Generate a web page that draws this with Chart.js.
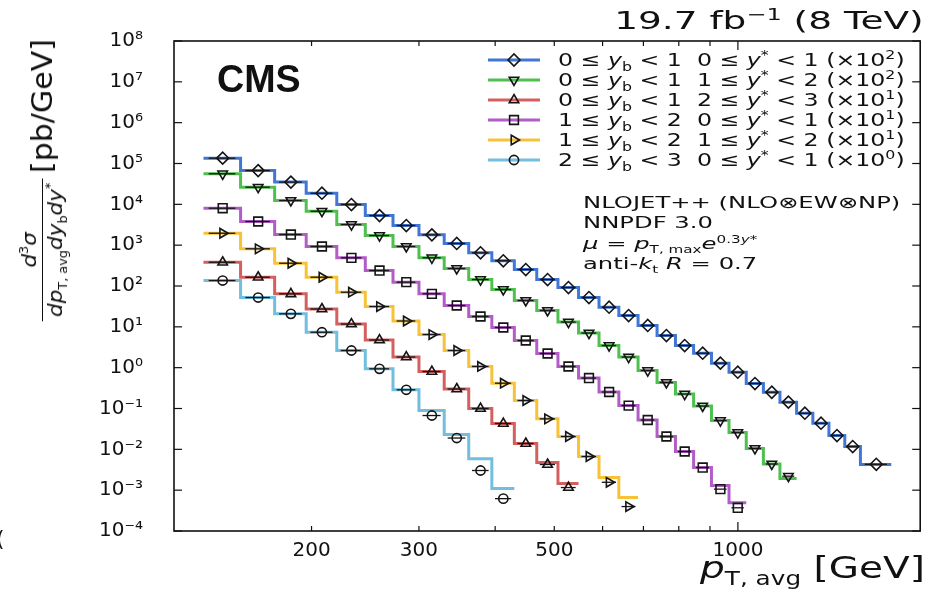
<!DOCTYPE html>
<html>
<head>
    <meta charset="utf-8">
    <title>Dijet cross section 8 TeV</title>
    <style>
        body {
            margin: 0;
            background: #fff;
            font-family: "DejaVu Sans", sans-serif;
            color: #111;
        }

        #wrap {
            position: relative;
            width: 928px;
            height: 592px;
            overflow: hidden;
        }

        #chart {
            position: absolute;
            left: 0;
            top: 0;
        }

        .txt {
            position: absolute;
            white-space: nowrap;
            color: #111;
        }

        #lumi {
            right: 4px;
            top: 5px;
            font-size: 25px;
        }

        #lumi sup { font-size: 16px; }

        #cms {
            left: 217px;
            top: 57px;
            font-family: "Liberation Sans", Arial, sans-serif;
            font-weight: bold;
            font-size: 39px;
        }

        .leg-sample {
            position: absolute;
            left: 486px;
        }

        .leg-text {
            position: absolute;
            left: 558px;
            font-size: 18px;
            line-height: 22px;
            white-space: nowrap;
        }

        .leg-text sub, .leg-text sup { font-size: 12px; line-height: 0; }

        #theory {
            left: 583px;
            top: 193px;
            font-size: 16px;
        }

        #theory > div { height: 20.3px; line-height: 20px; }

        #theory sub, #theory sup { font-size: 10px; line-height: 0; }

        #xtitle {
            right: 3px;
            top: 550px;
            font-size: 30px;
        }

        #xtitle sub { font-size: 19px; line-height: 0; }

        #ytitle {
            left: 42px;
            top: 178px;
            font-size: 28px;
            display: flex;
            align-items: center;
        }

        .frac {
            display: inline-flex;
            flex-direction: column;
            align-items: center;
            font-size: 20px;
            margin-right: 9px;
        }

        .frac .num {
            border-bottom: 1.5px solid #111;
            padding: 0 4px 1px 4px;
            width: 100%;
            text-align: center;
        }

        .frac sub, .frac sup { font-size: 12px; line-height: 0; }

        #stray {
            left: -4px;
            top: 526px;
            font-size: 22px;
        }
    </style>
</head>
<body>
<div id="wrap">
    <canvas id="chart" width="928" height="592"></canvas>
    <div class="txt" id="lumi">19.7 fb<sup>−1</sup> (8 TeV)</div>
    <div class="txt" id="cms">CMS</div>
    <div id="legend"></div>
    <div class="txt" id="theory">
        <div id="th1">NLOJET++ (NLO⊗EW⊗NP)</div>
        <div>NNPDF 3.0</div>
        <div><i>μ</i> = <i>p</i><sub>T, max</sub><i>e</i><sup>0.3<i>y</i>*</sup></div>
        <div>anti-<i>k</i><sub>t</sub> <i>R</i> = 0.7</div>
    </div>
    <div class="txt" id="xtitle"><i>p</i><sub>T, avg</sub> [GeV]</div>
    <div class="txt" id="ytitle">
        <span class="frac">
            <span class="num"><i>d</i><sup>3</sup><i>σ</i></span>
            <span class="den"><i>dp</i><sub>T, avg</sub><i>dy</i><sub>b</sub><i>dy</i><sup>*</sup></span>
        </span>
        <span>[pb/GeV]</span>
    </div>
    <div class="txt" id="stray">(</div>
</div>

<script src="https://cdn.jsdelivr.net/npm/chart.js@4.4.1/dist/chart.umd.min.js"></script>
<script>
    // pT_avg bin edges (GeV)
    const ptEdges = [133, 153, 174, 196, 220, 245, 272, 300, 330, 362, 395, 430, 468, 507, 548, 592,
        638, 686, 737, 790, 846, 905, 967, 1032, 1101, 1172, 1248, 1327, 1410, 1497, 1588, 1784];

    // NLO prediction per bin (already multiplied by the legend factor)
    const theoryA = [1.35e5, 6.7e4, 3.5e4, 1.87e4, 9.9e3, 5.3e3, 3.03e3, 1.79e3, 1.10e3, 650, 415, 253, 144,
        91.8, 52.2, 30.2, 18.9, 10.8, 6.12, 3.48, 2.26, 1.29, 0.773, 0.409, 0.250, 0.143, 0.0766, 0.0436,
        0.0218, 0.0117, 0.00425];
    const theoryB = [5.6e4, 2.63e4, 1.24e4, 6.78e3, 3.2e3, 1.72e3, 927, 490, 268, 144, 82, 44.1, 25.1, 13.1,
        7.05, 3.48, 1.82, 0.851, 0.433, 0.226, 0.115, 0.0507, 0.0258, 0.0105, 0.00437, 0.00193];
    const theoryC = [382, 164, 64.3, 27.3, 11.7, 4.75, 1.82, 0.804, 0.300, 0.0998, 0.0428, 0.0139, 0.00475,
        0.00145];
    const theoryD = [8.04e3, 3.8e3, 1.82e3, 927, 490, 239, 124, 64.3, 33.3, 17.9, 9.62, 4.62, 2.22, 1.07,
        0.557, 0.253, 0.118, 0.0522, 0.0206, 0.00883, 0.00358, 0.0013, 4.9e-4];
    const theoryE = [1.96e3, 814, 361, 164, 70.4, 31.4, 13.9, 6.48, 2.63, 1.07, 0.416, 0.157, 0.0558, 0.0206,
        0.00667, 0.00204, 6.6e-4];
    const theoryF = [136, 52.2, 20.8, 7.38, 2.63, 0.937, 0.287, 0.0892, 0.0230, 0.00585, 0.00110];

    // measured points
    const dataA = [1.35e5, 6.7e4, 3.5e4, 1.87e4, 9.9e3, 5.3e3, 3.03e3, 1.79e3, 1.10e3, 650, 415, 253, 144,
        91.8, 52.2, 30.2, 18.9, 10.8, 6.12, 3.48, 2.26, 1.29, 0.773, 0.409, 0.250, 0.143, 0.0766, 0.0436,
        0.0218, 0.0117, 0.0043];
    const dataB = [5.6e4, 2.63e4, 1.24e4, 6.78e3, 3.2e3, 1.72e3, 927, 490, 268, 144, 82, 44.1, 25.1, 13.1,
        7.05, 3.48, 1.82, 0.851, 0.433, 0.226, 0.115, 0.0507, 0.0258, 0.0105, 0.00437, 0.0022];
    const dataC = [382, 164, 64.3, 27.3, 11.7, 4.75, 1.82, 0.804, 0.300, 0.0998, 0.0428, 0.0139, 0.00425,
        0.00116];
    const dataD = [8.04e3, 3.8e3, 1.82e3, 927, 490, 239, 124, 64.3, 33.3, 17.9, 9.62, 4.62, 2.22, 1.07,
        0.557, 0.253, 0.118, 0.0522, 0.0206, 0.00883, 0.00358, 0.00106, 3.7e-4];
    const dataE = [1.96e3, 814, 361, 164, 70.4, 31.4, 13.9, 6.48, 2.63, 1.07, 0.416, 0.157, 0.0558, 0.0206,
        0.00667, 0.00156, 3.97e-4];
    const dataF = [136, 52.2, 20.8, 7.38, 2.63, 0.937, 0.287, 0.0673, 0.0189, 0.00303, 6.2e-4];

    // legend bins
    const ybBins = [[0, 1], [0, 1], [0, 1], [1, 2], [1, 2], [2, 3]];
    const ystarBins = [[0, 1], [1, 2], [2, 3], [0, 1], [1, 2], [0, 1]];
    const scaleExps = [2, 2, 1, 1, 1, 0];

    // axis ticks
    const yDecades = [1e-4, 1e-3, 1e-2, 1e-1, 1, 1e1, 1e2, 1e3, 1e4, 1e5, 1e6, 1e7, 1e8];
    const xTickValues = [200, 300, 400, 500, 600, 700, 800, 900, 1000];
    const xTickLabels = [200, 300, 500, 1000];

    const theories = [theoryA, theoryB, theoryC, theoryD, theoryE, theoryF];
    const measured = [dataA, dataB, dataC, dataD, dataE, dataF];
    const colors = ['#4176d4', '#4fbf4f', '#d35f5f', '#b25cc6', '#f7c235', '#72bede'];
    const markers = [
        {pointStyle: 'rectRot', rotation: 0, radius: 6},
        {pointStyle: 'triangle', rotation: 180, radius: 5.5},
        {pointStyle: 'triangle', rotation: 0, radius: 5.5},
        {pointStyle: 'rect', rotation: 0, radius: 6.2},
        {pointStyle: 'triangle', rotation: 90, radius: 5.5},
        {pointStyle: 'circle', rotation: 0, radius: 4.6}
    ];

    const supMap = {'-': '⁻', '0': '⁰', '1': '¹', '2': '²', '3': '³', '4': '⁴', '5': '⁵', '6': '⁶', '7': '⁷', '8': '⁸', '9': '⁹'};
    function toSup(n) {
        return String(n).split('').map(c => supMap[c]).join('');
    }

    const datasets = [];
    theories.forEach((vals, k) => {
        const steps = vals.map((v, i) => ({x: ptEdges[i], y: v}));
        steps.push({x: ptEdges[vals.length], y: vals[vals.length - 1]});
        datasets.push({
            data: steps,
            stepped: 'before',
            borderColor: colors[k],
            borderWidth: 3,
            pointRadius: 0,
            fill: false,
            order: 2
        });
    });
    measured.forEach((vals, k) => {
        datasets.push({
            data: vals.map((v, i) => ({x: (ptEdges[i] + ptEdges[i + 1]) / 2, y: v})),
            xLow: vals.map((v, i) => ptEdges[i]),
            xHigh: vals.map((v, i) => ptEdges[i + 1]),
            showLine: false,
            pointStyle: markers[k].pointStyle,
            rotation: markers[k].rotation,
            pointRadius: markers[k].radius,
            pointBorderColor: '#151515',
            pointBackgroundColor: 'rgba(255,255,255,0)',
            pointBorderWidth: 1.6,
            order: 1
        });
    });

    // short horizontal bars through the measured points
    const pointBars = {
        id: 'pointBars',
        afterDatasetsDraw(chart) {
            const {ctx, scales: {x, y}} = chart;
            ctx.save();
            ctx.strokeStyle = '#151515';
            ctx.lineWidth = 1.3;
            chart.data.datasets.forEach(ds => {
                if (!ds.xLow) return;
                ds.data.forEach((p, i) => {
                    const lo = x.getPixelForValue(ds.xLow[i]);
                    const hi = x.getPixelForValue(ds.xHigh[i]);
                    const c = (lo + hi) / 2, half = (hi - lo) * 0.36;
                    const py = y.getPixelForValue(p.y);
                    ctx.beginPath();
                    ctx.moveTo(c - half, py);
                    ctx.lineTo(c + half, py);
                    ctx.stroke();
                });
            });
            ctx.restore();
        }
    };

    // frame with inward ticks, matplotlib style
    const frameTicks = {
        id: 'frameTicks',
        afterDraw(chart) {
            const {ctx, chartArea: a, scales: {x, y}} = chart;
            ctx.save();
            ctx.strokeStyle = '#111';
            ctx.lineWidth = 1.6;
            ctx.strokeRect(a.left, a.top, a.right - a.left, a.bottom - a.top);
            ctx.lineWidth = 1.2;
            const seg = (x1, y1, x2, y2) => {
                ctx.beginPath();
                ctx.moveTo(x1, y1);
                ctx.lineTo(x2, y2);
                ctx.stroke();
            };
            y.ticks.forEach(t => {
                const py = y.getPixelForValue(t.value);
                seg(a.left, py, a.left + 8, py);
                seg(a.right - 8, py, a.right, py);
            });
            x.ticks.forEach(t => {
                const px = x.getPixelForValue(t.value);
                const len = t.value === 1000 ? 9 : 5;
                seg(px, a.bottom, px, a.bottom - len);
                seg(px, a.top, px, a.top + len);
            });
            ctx.restore();
        }
    };

    const tickFont = {family: 'DejaVu Sans', size: 20};

    new Chart(document.getElementById('chart'), {
        type: 'line',
        data: {datasets: datasets},
        options: {
            responsive: false,
            animation: false,
            layout: {padding: {top: 41, right: 2, left: 0, bottom: 0}},
            plugins: {
                legend: {display: false},
                tooltip: {enabled: false}
            },
            scales: {
                x: {
                    type: 'logarithmic',
                    min: 119,
                    max: 1990,
                    afterFit: s => { s.height = 61; },
                    afterBuildTicks: s => { s.ticks = xTickValues.map(v => ({value: v})); },
                    grid: {display: false},
                    border: {display: false},
                    ticks: {
                        autoSkip: false,
                        maxRotation: 0,
                        minRotation: 0,
                        padding: 0,
                        color: '#111',
                        font: tickFont,
                        callback: v => xTickLabels.includes(v) ? String(v) : ''
                    }
                },
                y: {
                    type: 'logarithmic',
                    min: 1e-4,
                    max: 1e8,
                    afterFit: s => { s.width = 174; },
                    afterBuildTicks: s => { s.ticks = yDecades.map(v => ({value: v})); },
                    grid: {display: false},
                    border: {display: false},
                    ticks: {
                        padding: 23,
                        color: '#111',
                        font: tickFont,
                        callback: v => '10' + toSup(Math.round(Math.log10(v)))
                    }
                }
            }
        },
        plugins: [pointBars, frameTicks]
    });

    // legend
    const legend = document.getElementById('legend');
    const rowY = [60, 80, 100, 120, 140, 160];
    scaleExps.forEach((e, k) => {
        const cv = document.createElement('canvas');
        cv.width = 56;
        cv.height = 20;
        cv.className = 'leg-sample';
        cv.style.top = (rowY[k] - 10) + 'px';
        legend.appendChild(cv);
        const c = cv.getContext('2d');
        c.strokeStyle = colors[k];
        c.lineWidth = 3;
        c.beginPath();
        c.moveTo(2, 10);
        c.lineTo(54, 10);
        c.stroke();
        c.strokeStyle = '#151515';
        c.fillStyle = 'rgba(255,255,255,0)';
        c.lineWidth = 1.6;
        Chart.helpers.drawPoint(c, {
            pointStyle: markers[k].pointStyle,
            rotation: markers[k].rotation,
            radius: markers[k].radius,
            borderWidth: 1.6
        }, 28, 10);

        const t = document.createElement('div');
        t.className = 'leg-text';
        t.style.top = (rowY[k] - 11) + 'px';
        t.innerHTML = `${ybBins[k][0]} ≤ <i>y</i><sub>b</sub> &lt; ${ybBins[k][1]}&nbsp; ` +
            `${ystarBins[k][0]} ≤ <i>y</i><sup>*</sup> &lt; ${ystarBins[k][1]} (×10<sup>${scaleExps[k]}</sup>)`;
        legend.appendChild(t);
    });

    // stretch text blocks to the widths of the original figure
    function fitWidth(el, target, origin) {
        el.style.transformOrigin = origin;
        el.style.transform = `scaleX(${target / el.offsetWidth})`;
    }
    document.querySelectorAll('.leg-text').forEach(el => fitWidth(el, 347, 'left center'));
    fitWidth(document.getElementById('lumi'), 310, 'right center');
    fitWidth(document.getElementById('cms'), 84, 'left center');
    const th = document.getElementById('theory');
    const th1 = document.getElementById('th1');
    th1.style.display = 'inline-block';
    th.style.transformOrigin = 'left top';
    th.style.transform = `scaleX(${317 / th1.offsetWidth})`;
    fitWidth(document.getElementById('xtitle'), 225, 'right center');
    const yt = document.getElementById('ytitle');
    yt.style.transform = `translate(-50%, -50%) rotate(-90deg) scaleX(${278 / yt.offsetWidth})`;
</script>
</body>
</html>
